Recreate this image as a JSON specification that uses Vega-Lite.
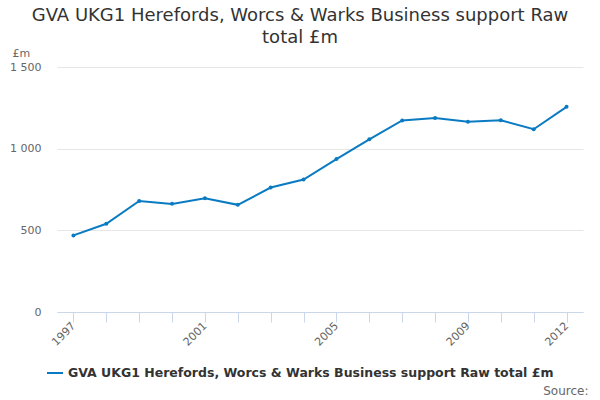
{
  "$schema": "https://vega.github.io/schema/vega-lite/v6.json",
  "width": 526,
  "height": 245,
  "autosize": {"type": "none"},
  "padding": {"left": 57, "top": 67, "right": 17, "bottom": 88},
  "background": "white",
  "config": {
    "font": "DejaVu Sans",
    "view": {"stroke": null}
  },
  "title": {
    "text": ["GVA UKG1 Herefords, Worcs & Warks Business support Raw", "total £m"],
    "anchor": "middle",
    "frame": "group",
    "dx": -20,
    "fontSize": 18,
    "fontWeight": "normal",
    "color": "#333333",
    "font": "DejaVu Sans",
    "lineHeight": 22,
    "offset": 0
  },
  "data": {
    "values": [
      {"year": "1997", "value": 469},
      {"year": "1998", "value": 540},
      {"year": "1999", "value": 680},
      {"year": "2000", "value": 662},
      {"year": "2001", "value": 696},
      {"year": "2002", "value": 656},
      {"year": "2003", "value": 762},
      {"year": "2004", "value": 811},
      {"year": "2005", "value": 936},
      {"year": "2006", "value": 1057},
      {"year": "2007", "value": 1173},
      {"year": "2008", "value": 1188},
      {"year": "2009", "value": 1165},
      {"year": "2010", "value": 1174},
      {"year": "2011", "value": 1119},
      {"year": "2012", "value": 1256}
    ]
  },
  "mark": {"type": "line", "strokeWidth": 2, "point": {"filled": true, "size": 16}},
  "encoding": {
    "x": {
      "field": "year",
      "type": "ordinal",
      "scale": {"type": "point", "padding": 0.5},
      "axis": {
        "title": "Source:",
        "titleFont": "DejaVu Sans",
        "titleFontSize": 12,
        "titleFontWeight": "normal",
        "titleColor": "#666666",
        "titleAnchor": "end",
        "titleAlign": "right",
        "titleBaseline": "alphabetic",
        "titleX": 531,
        "titleY": 82,
        "labelAngle": -45,
        "labelAlign": "right",
        "labelBaseline": "middle",
        "labelExpr": "indexof(['1997','2001','2005','2009','2012'], datum.value) >= 0 ? datum.value : ''",
        "labelFontSize": 11,
        "labelColor": "#666666",
        "labelPadding": 2,
        "tickSize": 10,
        "tickColor": "#ccd6eb",
        "domainColor": "#ccd6eb",
        "grid": false
      }
    },
    "y": {
      "field": "value",
      "type": "quantitative",
      "scale": {"domain": [0, 1500]},
      "axis": {
        "values": [0, 500, 1000, 1500],
        "labelExpr": "replace(format(datum.value, ','), ',', ' ')",
        "title": "£m",
        "titleAngle": 0,
        "titleAlign": "left",
        "titleBaseline": "alphabetic",
        "titleX": -45,
        "titleY": -11,
        "titleFontSize": 11,
        "titleFontWeight": "normal",
        "titleColor": "#666666",
        "labelFontSize": 11,
        "labelColor": "#666666",
        "labelPadding": 16,
        "ticks": false,
        "domain": false,
        "grid": true,
        "gridColor": "#e6e6e6"
      }
    },
    "color": {
      "datum": "GVA UKG1 Herefords, Worcs & Warks Business support Raw total £m",
      "type": "nominal",
      "scale": {"range": ["#0a7bc2"]},
      "legend": {
        "title": null,
        "orient": "none",
        "legendX": -11,
        "legendY": 297,
        "symbolType": "stroke",
        "symbolSize": 256,
        "symbolStrokeWidth": 2,
        "labelFontSize": 12.5,
        "labelFontWeight": "bold",
        "labelColor": "#333333",
        "labelFont": "DejaVu Sans",
        "labelLimit": 600
      }
    }
  }
}
